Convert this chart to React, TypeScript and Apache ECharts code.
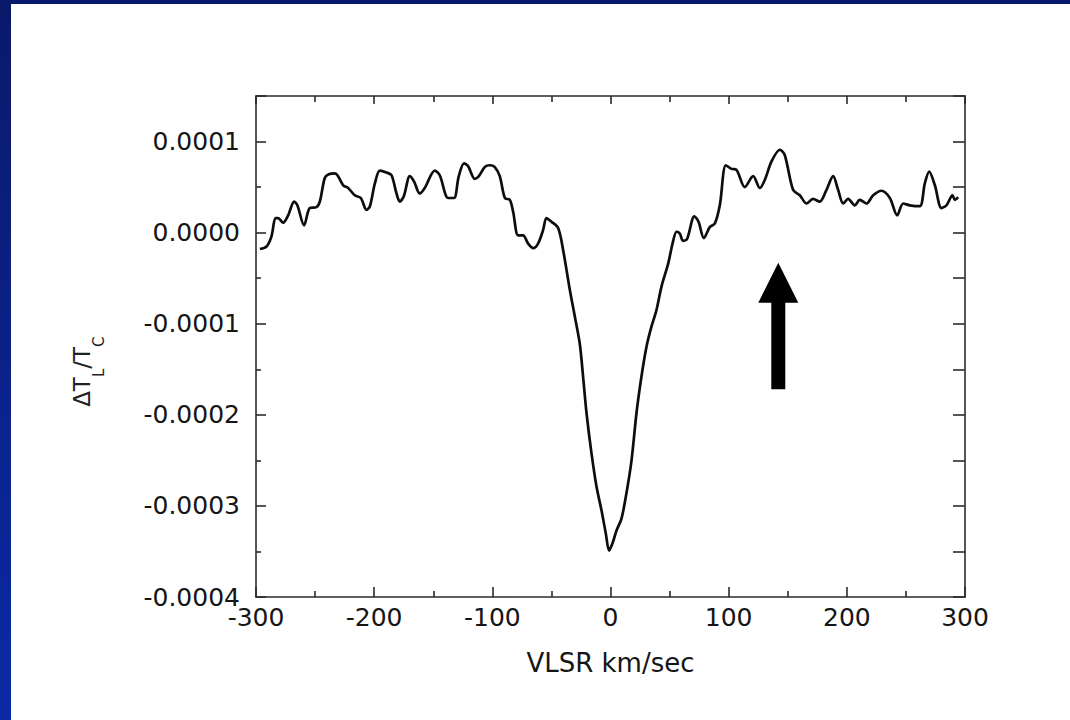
import React, { useEffect, useRef } from "react";
import * as echarts from "echarts";

// Velocity (km/sec)
const velocity = [
  -296.7, -291, -286.9, -283.5, -281.3, -277, -272.8, -267.7, -265, -259.3,
  -254.5, -248.8, -246, -241.8, -238.4, -233.3, -230.5, -226.2, -222, -216.4,
  -211.3, -206.5, -203.6, -199.4, -195.2, -189.6, -185.3, -181.1, -178.3, -174.9,
  -169.8, -166.2, -161.4, -157.2, -148.7, -144.5, -137.4, -132.4, -128.4, -123.9,
  -120.5, -114.8, -111.4, -106.4, -102.1, -97.9, -93.7, -89.4, -85.2, -82.4,
  -78.2, -74, -69.7, -65.5, -61.3, -57, -54.2, -50, -44.3, -40.1,
  -34.4, -30.2, -26, -23.2, -20.3, -16.1, -11.8, -7.6, -4, -1.2,
  1.7, 5.1, 9.3, 13.5, 17.8, 22, 26.2, 30.5, 34.7, 38.9,
  43.2, 48.8, 52.5, 55.9, 58.6, 61.4, 64.8, 71, 74.5, 79,
  84, 88.3, 92.5, 97.6, 102.4, 106.6, 113.6, 120.7, 126.4, 130.6,
  136.2, 143.3, 147.5, 154.5, 160.2, 165.9, 171.4, 177.1, 182.8, 188.4,
  192.6, 196.9, 201.1, 206.7, 211, 216.6, 222.3, 229.3, 236.4, 242.6,
  247.7, 253.3, 261.7, 266, 269.7, 274.5, 280.1, 284.3, 289.4, 291.4,
  294.2,
];

// Line-to-continuum ratio ΔT_L/T_C
const deltaT = [
  -0.18e-4, -0.15e-4, -0.04e-4, 0.16e-4, 0.16e-4, 0.11e-4, 0.19e-4, 0.34e-4, 0.3e-4, 0.08e-4,
  0.27e-4, 0.28e-4, 0.34e-4, 0.6e-4, 0.64e-4, 0.65e-4, 0.62e-4, 0.52e-4, 0.49e-4, 0.41e-4,
  0.38e-4, 0.25e-4, 0.29e-4, 0.54e-4, 0.68e-4, 0.66e-4, 0.63e-4, 0.43e-4, 0.34e-4, 0.4e-4,
  0.62e-4, 0.56e-4, 0.43e-4, 0.49e-4, 0.68e-4, 0.63e-4, 0.38e-4, 0.38e-4, 0.62e-4, 0.76e-4,
  0.73e-4, 0.59e-4, 0.62e-4, 0.72e-4, 0.74e-4, 0.72e-4, 0.62e-4, 0.38e-4, 0.36e-4, 0.23e-4,
  -0.03e-4, -0.03e-4, -0.12e-4, -0.17e-4, -0.12e-4, 0.03e-4, 0.16e-4, 0.12e-4, 0.05e-4, -0.19e-4,
  -0.63e-4, -0.92e-4, -1.22e-4, -1.58e-4, -1.98e-4, -2.42e-4, -2.79e-4, -3.05e-4, -3.3e-4, -3.49e-4,
  -3.41e-4, -3.27e-4, -3.14e-4, -2.86e-4, -2.5e-4, -1.98e-4, -1.58e-4, -1.25e-4, -1.03e-4, -0.85e-4,
  -0.59e-4, -0.34e-4, -0.12e-4, 0.01e-4, -0.01e-4, -0.09e-4, -0.07e-4, 0.18e-4, 0.12e-4, -0.06e-4,
  0.06e-4, 0.1e-4, 0.3e-4, 0.74e-4, 0.7e-4, 0.69e-4, 0.5e-4, 0.62e-4, 0.49e-4, 0.58e-4,
  0.78e-4, 0.91e-4, 0.85e-4, 0.47e-4, 0.41e-4, 0.32e-4, 0.37e-4, 0.34e-4, 0.47e-4, 0.62e-4,
  0.47e-4, 0.32e-4, 0.37e-4, 0.3e-4, 0.36e-4, 0.32e-4, 0.41e-4, 0.46e-4, 0.38e-4, 0.19e-4,
  0.32e-4, 0.3e-4, 0.29e-4, 0.54e-4, 0.67e-4, 0.52e-4, 0.27e-4, 0.3e-4, 0.41e-4, 0.36e-4,
  0.39e-4,
];

// Arrow annotation (velocity, tip value, tail value)
const arrowVelocity = 142;
const arrowTipValue = -0.000033;
const arrowTailValue = -0.000172;

const xMin = -300;
const xMax = 300;
const xInterval = 100;
const yMin = -0.0004;
const yMax = 0.00015;
const yInterval = 0.0001;

const FONT = "DejaVu Sans";
const TEXT = "#151515";
const AXIS = "#2b2b2b";

export default function App() {
  const ref = useRef<HTMLDivElement>(null);

  useEffect(() => {
    const chart = echarts.init(ref.current!, null, { renderer: "svg" });
    const fmtY = (v: number) => (Math.abs(v) < 1e-12 ? "0.0000" : v.toFixed(4));
    const axisLine = { show: true, onZero: false, lineStyle: { color: AXIS, width: 1.6 } };

    chart.setOption({
      animation: false,
      backgroundColor: "#ffffff",
      grid: { left: 256, top: 96, right: 105, bottom: 123, containLabel: false },
      xAxis: [
        {
          type: "value",
          position: "bottom",
          min: xMin,
          max: xMax,
          interval: xInterval,
          name: "VLSR km/sec",
          nameLocation: "middle",
          nameGap: 53,
          nameTextStyle: { fontFamily: FONT, fontSize: 26, color: TEXT },
          axisLine,
          axisTick: { show: true, inside: true, length: 10, lineStyle: { color: AXIS, width: 1.6 } },
          minorTick: { show: true, splitNumber: 2, length: 6, lineStyle: { color: AXIS, width: 1.6 } },
          axisLabel: { fontFamily: FONT, fontSize: 25, color: TEXT, margin: 8 },
          splitLine: { show: false },
        },
        {
          type: "value",
          position: "top",
          min: xMin,
          max: xMax,
          interval: xInterval,
          axisLine,
          axisTick: { show: true, inside: true, length: 8, lineStyle: { color: AXIS, width: 1.6 } },
          minorTick: { show: true, splitNumber: 2, length: 6, lineStyle: { color: AXIS, width: 1.6 } },
          axisLabel: { show: false },
          splitLine: { show: false },
        },
      ],
      yAxis: [
        {
          type: "value",
          position: "left",
          min: yMin,
          max: yMax,
          interval: yInterval,
          name: "{m|ΔT}{s|L}{m|/T}{s|C}{g| }",
          nameLocation: "middle",
          nameRotate: 90,
          nameGap: 150,
          nameTextStyle: {
            color: "#222",
            padding: [0, 50, 0, 0],
            rich: {
              m: { fontFamily: FONT, fontSize: 23, lineHeight: 24, verticalAlign: "top", color: "#222" },
              s: { fontFamily: FONT, fontSize: 15, lineHeight: 15, verticalAlign: "bottom", color: "#222" },
              g: { fontFamily: FONT, fontSize: 1, lineHeight: 36, color: "#222" },
            },
          },
          axisLine,
          axisTick: { show: true, inside: true, length: 10, lineStyle: { color: AXIS, width: 1.6 } },
          minorTick: { show: true, splitNumber: 2, length: 5, lineStyle: { color: AXIS, width: 1.6 } },
          axisLabel: {
            fontFamily: FONT,
            fontSize: 25,
            color: TEXT,
            margin: 16,
            formatter: fmtY,
            showMaxLabel: false,
          },
          splitLine: { show: false },
        },
        {
          type: "value",
          position: "right",
          min: yMin,
          max: yMax,
          interval: yInterval / 2,
          axisLine,
          axisTick: { show: true, inside: true, length: 12, lineStyle: { color: AXIS, width: 1.6 } },
          axisLabel: { show: false },
          splitLine: { show: false },
        },
      ],
      series: [
        {
          type: "line",
          xAxisIndex: 0,
          yAxisIndex: 0,
          data: velocity.map((v, i) => [v, deltaT[i]]),
          showSymbol: false,
          smooth: 0.3,
          lineStyle: { color: "#0d0d0d", width: 2.7 },
          z: 3,
        },
      ],
    });

    const tip = chart.convertToPixel({ seriesIndex: 0 }, [arrowVelocity, arrowTipValue]) as number[];
    const tail = chart.convertToPixel({ seriesIndex: 0 }, [arrowVelocity, arrowTailValue]) as number[];
    const cx = tip[0];
    const headH = 40;
    const headW = 20;
    const shaftW = 7;

    chart.setOption({
      graphic: [
        {
          id: "leftBorder",
          type: "rect",
          shape: { x: 0, y: 0, width: 11, height: 720 },
          style: {
            fill: new echarts.graphic.LinearGradient(0, 0, 0, 1, [
              { offset: 0, color: "#0a196a" },
              { offset: 1, color: "#0a2aa6" },
            ]),
          },
          z: 10,
        },
        {
          id: "topBorder",
          type: "rect",
          shape: { x: 0, y: 0, width: 1070, height: 4 },
          style: { fill: "#06196a" },
          z: 10,
        },
        {
          id: "arrow",
          type: "polygon",
          shape: {
            points: [
              [cx, tip[1]],
              [cx + headW, tip[1] + headH],
              [cx + shaftW, tip[1] + headH],
              [cx + shaftW, tail[1]],
              [cx - shaftW, tail[1]],
              [cx - shaftW, tip[1] + headH],
              [cx - headW, tip[1] + headH],
            ],
          },
          style: { fill: "#000000" },
          z: 10,
        },
      ],
    });

    return () => chart.dispose();
  }, []);

  return (
    <div
      ref={ref}
      style={{ position: "fixed", left: 0, top: 0, width: 1070, height: 720, background: "#fff" }}
    />
  );
}
